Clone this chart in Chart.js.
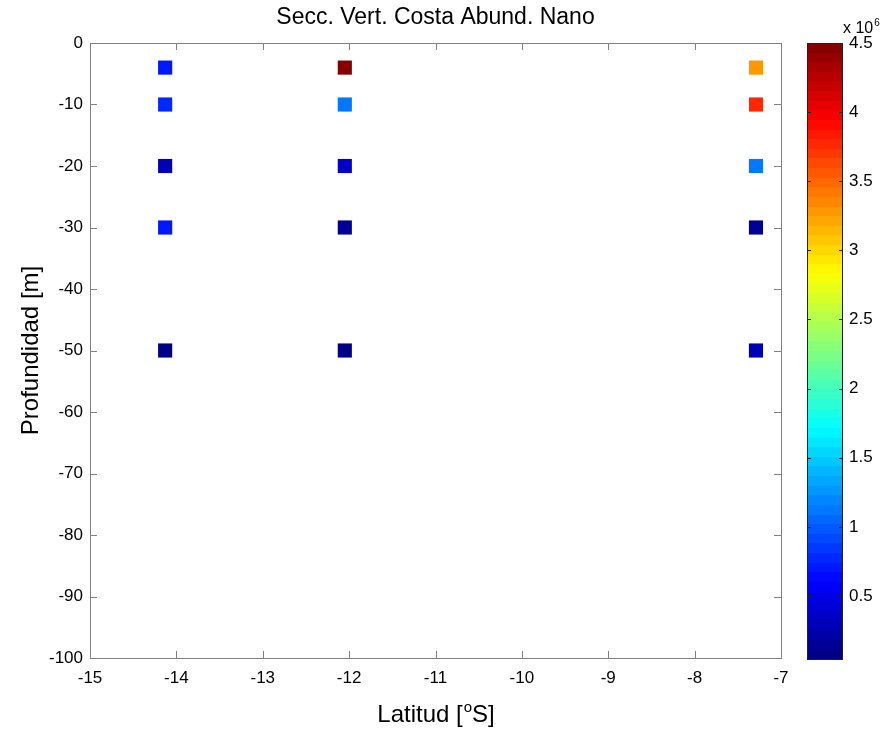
<!DOCTYPE html>
<html>
<head>
<meta charset="utf-8">
<script src="https://cdn.jsdelivr.net/npm/chart.js@4.4.1/dist/chart.umd.min.js"></script>
<style>
  html, body { margin: 0; padding: 0; background: #fff; }
  #wrap { position: relative; width: 885px; height: 732px; }
  #wrap canvas { position: absolute; left: 0; top: 0; }
</style>
</head>
<body>
<div id="wrap">
  <canvas id="mainChart" width="885" height="732"></canvas>
  <canvas id="cbChart" width="885" height="732"></canvas>
</div>
<script>
// Station latitudes and sample depths
const stations = [-14.13, -12.05, -7.29]
const depths = [-4, -10, -20, -30, -50]

// Nano abundance (x 10^6) per station, same order as depths
const abundStation1 = [0.68, 0.75, 0.32, 0.70, 0.10]
const abundStation2 = [4.50, 1.13, 0.38, 0.14, 0.08]
const abundStation3 = [3.30, 3.76, 1.10, 0.14, 0.32]

// Tick labels
const xTicks = [-15, -14, -13, -12, -11, -10, -9, -8, -7]
const yTicks = [0, -10, -20, -30, -40, -50, -60, -70, -80, -90, -100]
const cbTicks = [0.5, 1, 1.5, 2, 2.5, 3, 3.5, 4, 4.5]
const cbMin = 0.044
const cbMax = 4.5

const FONT = '"Liberation Sans", Arial, Helvetica, sans-serif'
const AXIS_GRAY = "#808080"

// MATLAB jet colormap
function jetRGB(t) {
  const c = (v) => Math.round(255 * Math.min(1, Math.max(0, v)))
  const r = c(Math.min(4 * t - 1.5, -4 * t + 4.5))
  const g = c(Math.min(4 * t - 0.5, -4 * t + 3.5))
  const b = c(Math.min(4 * t + 0.5, -4 * t + 2.5))
  return `rgb(${r},${g},${b})`
}
function jetColor(v) {
  let t = (v - cbMin) / (cbMax - cbMin)
  t = Math.min(1, Math.max(0, t))
  // 64-level discrete map like MATLAB
  t = (Math.min(63, Math.floor(t * 64)) + 0.5) / 64
  return jetRGB(t)
}

const abundance = [abundStation1, abundStation2, abundStation3]
const points = []
stations.forEach((lat, i) => {
  depths.forEach((d, j) => {
    points.push({ x: lat, y: d, v: abundance[i][j] })
  })
})

// draw "base" + superscript + "rest"
function drawSup(ctx, x, y, base, sup, rest, size, align) {
  const supSize = Math.round(size * 0.62)
  ctx.font = `${size}px ${FONT}`
  const w1 = ctx.measureText(base).width
  const w3 = ctx.measureText(rest).width
  ctx.font = `${supSize}px ${FONT}`
  const w2 = ctx.measureText(sup).width
  const total = w1 + w2 + w3
  let x0 = align === "center" ? x - total / 2 : x
  ctx.textAlign = "left"
  ctx.textBaseline = "alphabetic"
  ctx.font = `${size}px ${FONT}`
  ctx.fillText(base, x0, y)
  ctx.font = `${supSize}px ${FONT}`
  ctx.fillText(sup, x0 + w1 + 1, y - size * 0.42)
  ctx.font = `${size}px ${FONT}`
  ctx.fillText(rest, x0 + w1 + w2 + 1, y)
}

// Box, inward ticks and titles (MATLAB look)
const framePlugin = {
  id: "framePlugin",
  afterDraw(chart) {
    const { ctx, chartArea: a, scales } = chart
    const x = scales.x
    const y = scales.y
    const tl = 7
    ctx.save()
    ctx.strokeStyle = AXIS_GRAY
    ctx.lineWidth = 1
    ctx.strokeRect(Math.round(a.left) + 0.5, Math.round(a.top) + 0.5, Math.round(a.right - a.left), Math.round(a.bottom - a.top))
    ctx.beginPath()
    xTicks.forEach((v) => {
      const px = Math.round(x.getPixelForValue(v)) + 0.5
      ctx.moveTo(px, a.bottom); ctx.lineTo(px, a.bottom - tl)
      ctx.moveTo(px, a.top); ctx.lineTo(px, a.top + tl)
    })
    yTicks.forEach((v) => {
      const py = Math.round(y.getPixelForValue(v)) + 0.5
      ctx.moveTo(a.left, py); ctx.lineTo(a.left + tl, py)
      ctx.moveTo(a.right, py); ctx.lineTo(a.right - tl, py)
    })
    ctx.stroke()

    ctx.fillStyle = "#000"
    ctx.font = `23px ${FONT}`
    ctx.textAlign = "center"
    ctx.textBaseline = "middle"
    const cx = (a.left + a.right) / 2
    ctx.fillText("Secc. Vert. Costa Abund. Nano", cx, 18)

    drawSup(ctx, cx, 722, "Latitud [", "o", "S]", 24, "center")

    ctx.save()
    ctx.translate(31, (a.top + a.bottom) / 2)
    ctx.rotate(-Math.PI / 2)
    ctx.font = `24px ${FONT}`
    ctx.textAlign = "center"
    ctx.textBaseline = "middle"
    ctx.fillText("Profundidad [m]", 0, 0)
    ctx.restore()
    ctx.restore()
  },
}

new Chart(document.getElementById("mainChart"), {
  type: "scatter",
  data: {
    datasets: [
      {
        data: points,
        pointStyle: "rect",
        pointRadius: 10,
        pointHoverRadius: 10,
        borderWidth: 0,
        backgroundColor: (c) => (c.raw ? jetColor(c.raw.v) : "#000"),
      },
    ],
  },
  options: {
    responsive: false,
    animation: false,
    layout: { padding: { top: 43, right: 104, left: 0, bottom: 0 } },
    plugins: { legend: { display: false }, tooltip: { enabled: false }, title: { display: false } },
    scales: {
      x: {
        type: "linear",
        min: -15,
        max: -7,
        grid: { display: false, drawTicks: false },
        border: { display: false },
        ticks: { padding: 10, color: "#000", font: { family: FONT, size: 17 } },
        afterBuildTicks: (s) => { s.ticks = xTicks.map((v) => ({ value: v })) },
        afterFit: (s) => { s.height = 74 },
      },
      y: {
        type: "linear",
        min: -100,
        max: 0,
        grid: { display: false, drawTicks: false },
        border: { display: false },
        ticks: { padding: 7, color: "#000", font: { family: FONT, size: 17 } },
        afterBuildTicks: (s) => { s.ticks = yTicks.map((v) => ({ value: v })) },
        afterFit: (s) => { s.width = 90 },
      },
    },
  },
  plugins: [framePlugin],
})

// Colorbar: floating bar filled with the jet map
const cbPlugin = {
  id: "cbPlugin",
  afterDraw(chart) {
    const { ctx, chartArea: a, scales } = chart
    const y = scales.y
    ctx.save()
    ctx.strokeStyle = "#222"
    ctx.lineWidth = 1
    ctx.strokeRect(Math.round(a.left) + 0.5, Math.round(a.top) + 0.5, Math.round(a.right - a.left) - 1, Math.round(a.bottom - a.top))
    ctx.beginPath()
    cbTicks.forEach((v) => {
      const py = Math.round(y.getPixelForValue(v)) + 0.5
      ctx.moveTo(a.left, py); ctx.lineTo(a.left + 4, py)
      ctx.moveTo(a.right, py); ctx.lineTo(a.right - 4, py)
    })
    ctx.stroke()
    ctx.fillStyle = "#000"
    drawSup(ctx, a.right, 33, "x 10", "6", "", 16, "left")
    ctx.restore()
  },
}

new Chart(document.getElementById("cbChart"), {
  type: "bar",
  data: {
    labels: ["cb"],
    datasets: [
      {
        data: [[cbMin, cbMax]],
        borderWidth: 0,
        borderSkipped: false,
        barPercentage: 1,
        categoryPercentage: 1,
        backgroundColor: (c) => {
          const chart = c.chart
          const a = chart.chartArea
          if (!a) return "#000"
          const y = chart.scales.y
          const g = chart.ctx.createLinearGradient(0, y.getPixelForValue(cbMin), 0, y.getPixelForValue(cbMax))
          for (let k = 0; k < 64; k++) {
            const col = jetRGB((k + 0.5) / 64)
            g.addColorStop(k / 64, col)
            g.addColorStop((k + 1) / 64, col)
          }
          return g
        },
      },
    ],
  },
  options: {
    responsive: false,
    animation: false,
    layout: { padding: { left: 807, top: 43, bottom: 73, right: 0 } },
    plugins: { legend: { display: false }, tooltip: { enabled: false } },
    scales: {
      x: { display: false },
      y: {
        position: "right",
        min: cbMin,
        max: cbMax,
        grid: { display: false, drawTicks: false },
        border: { display: false },
        ticks: { padding: 6, color: "#000", font: { family: FONT, size: 17 }, callback: (v) => String(v) },
        afterBuildTicks: (s) => { s.ticks = cbTicks.map((v) => ({ value: v })) },
        afterFit: (s) => { s.width = 42 },
      },
    },
  },
  plugins: [cbPlugin],
})
</script>
</body>
</html>
